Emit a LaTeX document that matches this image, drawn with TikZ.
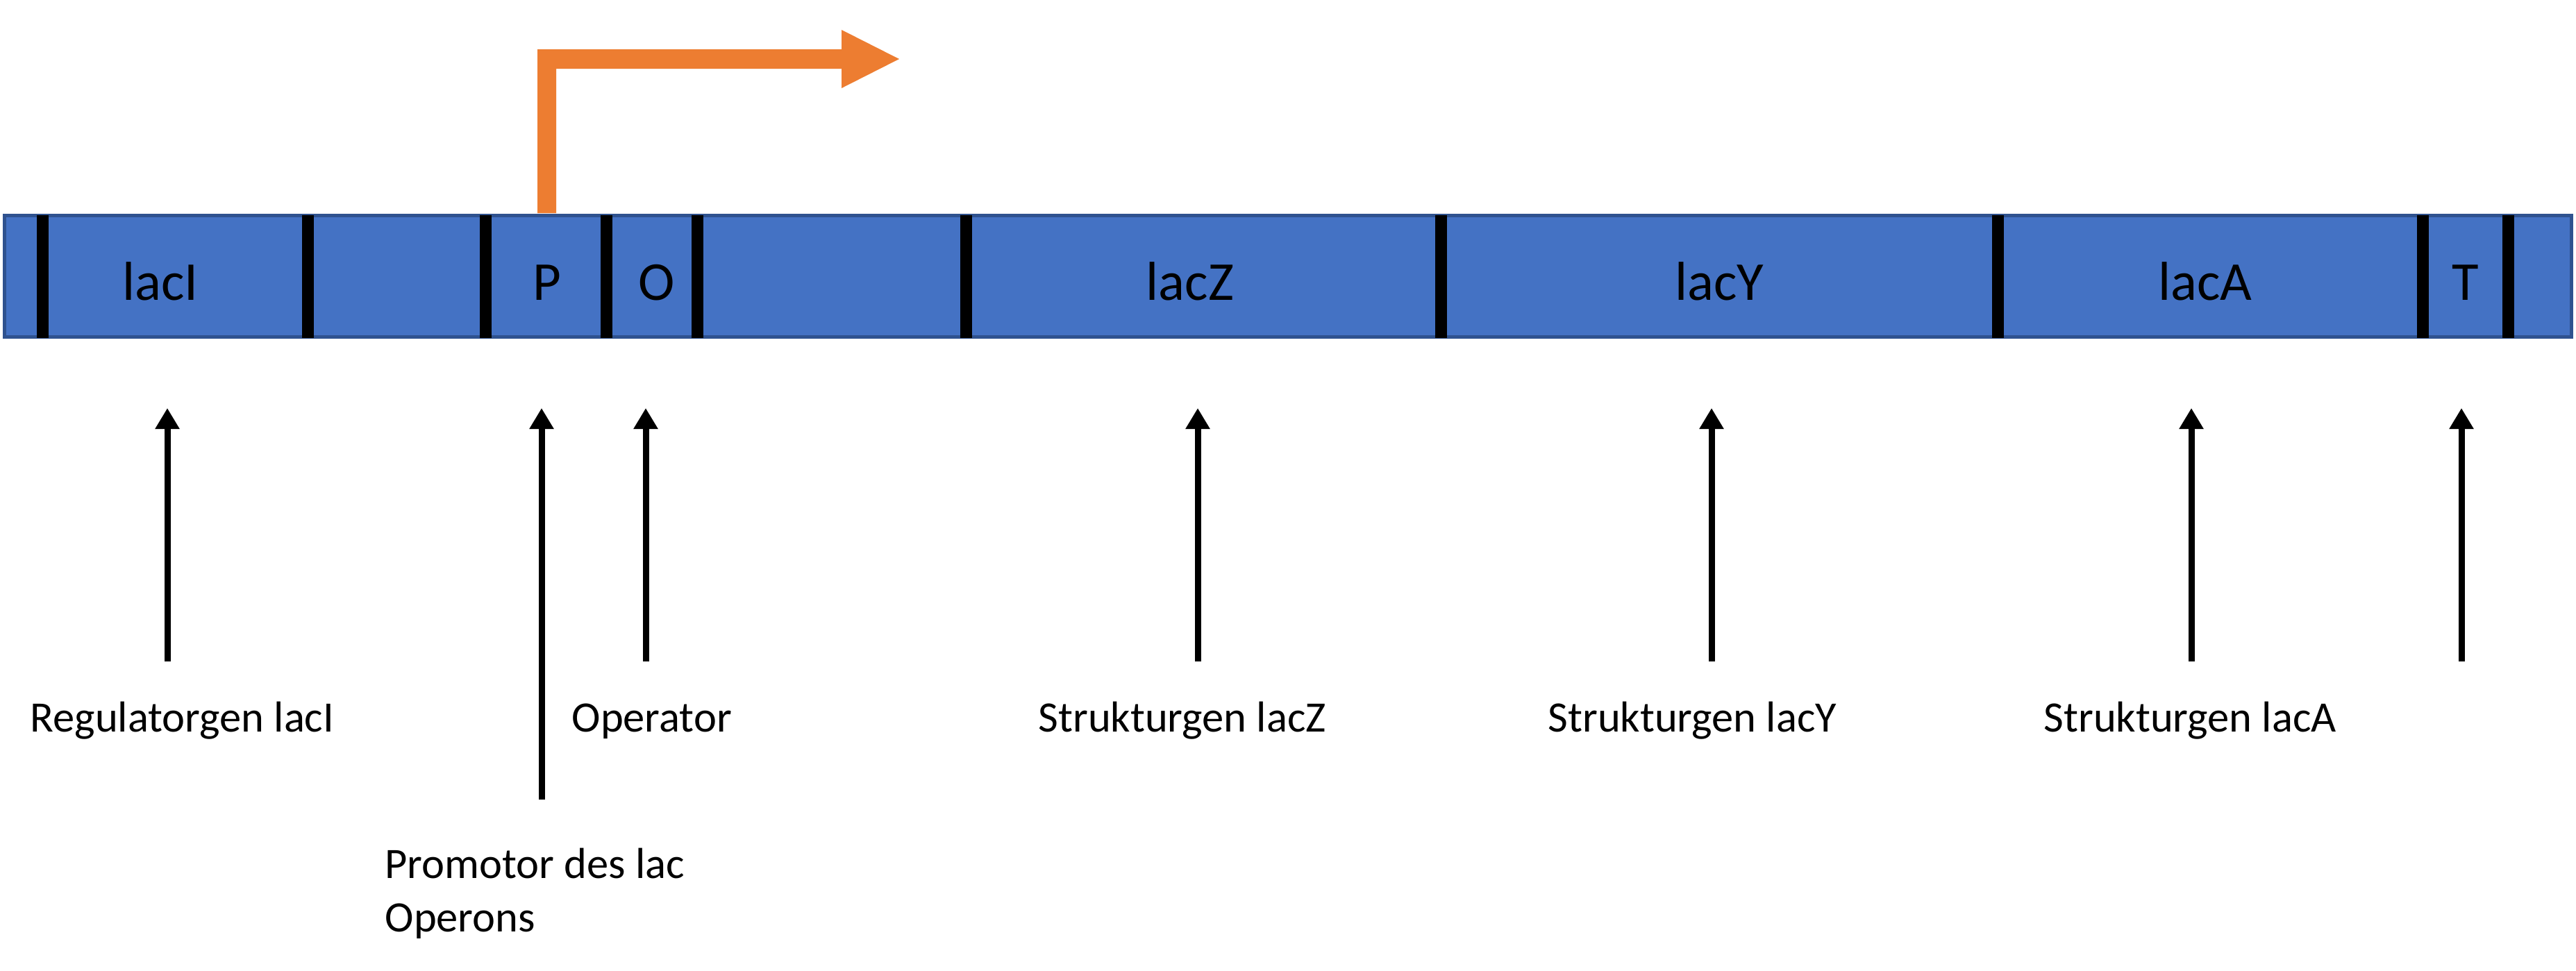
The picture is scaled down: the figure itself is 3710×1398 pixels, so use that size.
\documentclass[tikz,border=0pt]{standalone}
\usepackage{fontspec}
\setmainfont{Carlito}
\usetikzlibrary{arrows.meta}
\definecolor{barblue}{HTML}{4472C4}
\definecolor{barline}{HTML}{2F528F}
\definecolor{orng}{HTML}{ED7D31}
\begin{document}
\begin{tikzpicture}[x=0.3pt,y=-0.3pt,
  seglabel/.style={font=\fontsize{23.7}{28}\selectfont, anchor=base, inner sep=0},
  desc/.style={font=\fontsize{18.75}{23.1}\selectfont, anchor=base west, inner sep=0, align=left},
  divider/.style={line width=5.1pt, black},
  pointer/.style={line width=2.7pt, black, -{Triangle[length=9pt,width=10pt]}}]
\useasboundingbox (0,0) rectangle (3710,1398);
\fill[white] (0,0) rectangle (3710,1398);
% operon bar
\draw[fill=barblue, draw=barline, line width=1.5pt] (6.5,310.5) rectangle (3703.5,485.5);
\foreach \x in {61,443,699,873,1004,1391,2075,2877,3489,3612}
  \draw[divider] (\x,310) -- (\x,487);
% segment labels
\node[seglabel] (lacI) at (231,432) {lacI};
\node[seglabel] (P) at (788,432) {P};
\node[seglabel] (O) at (946,432) {O};
\node[seglabel] (lacZ) at (1714,432) {lacZ};
\node[seglabel] (lacY) at (2476,432) {lacY};
\node[seglabel] (lacA) at (3176,432) {lacA};
\node[seglabel] (T) at (3551,432) {T};
% transcription start arrow
\fill[orng] (774,307) -- (801,307) -- (801,99) -- (1212,99) -- (1212,127) -- (1295,85)
  -- (1212,43) -- (1212,71) -- (774,71) -- cycle;
% descriptions
\node[desc] (dI) at (43,1054) {Regulatorgen lacI};
\node[desc] (dO) at (823,1054) {Operator};
\node[desc] (dZ) at (1495,1054) {Strukturgen lacZ};
\node[desc] (dY) at (2229,1054) {Strukturgen lacY};
\node[desc] (dA) at (2943,1054) {Strukturgen lacA};
\node[desc] (dP) at (554,1342) {Promotor des lac\\Operons};
% pointer arrows
\foreach \n/\x/\yb in {aI/241/953, aP/780/1152, aO/930/953, aZ/1725/953, aY/2465/953, aA/3156/953, aT/3545/953}{
  \coordinate (\n s) at (\x,\yb);
  \coordinate (\n e) at (\x,588);
  \draw[pointer] (\n s) -- (\n e);
}
\end{tikzpicture}
\end{document}
